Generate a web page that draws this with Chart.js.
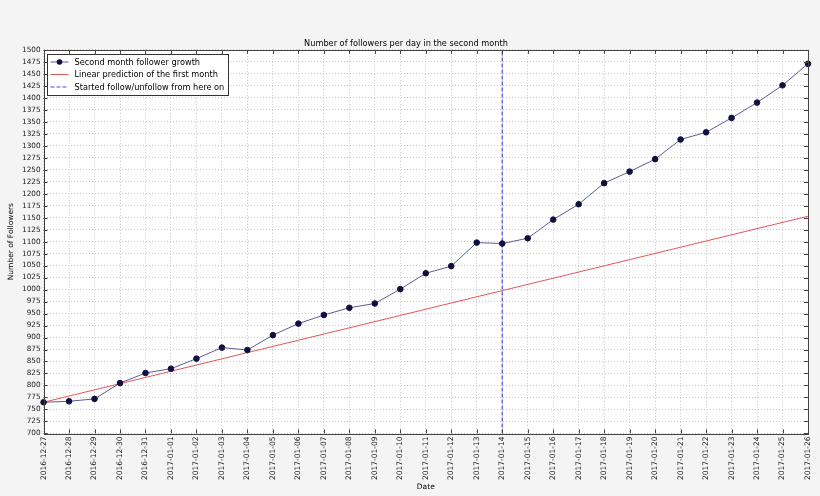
<!DOCTYPE html>
<html>
<head>
<meta charset="utf-8">
<script src="https://cdn.jsdelivr.net/npm/chart.js@4.4.1/dist/chart.umd.min.js"></script>
<style>
    html, body { margin: 0; padding: 0; background: #f4f4f4; }
</style>
</head>
<body>
<canvas id="followersChart" width="820" height="496"></canvas>
<script>
const dates = [
    '2016-12-27', '2016-12-28', '2016-12-29', '2016-12-30', '2016-12-31',
    '2017-01-01', '2017-01-02', '2017-01-03', '2017-01-04', '2017-01-05',
    '2017-01-06', '2017-01-07', '2017-01-08', '2017-01-09', '2017-01-10',
    '2017-01-11', '2017-01-12', '2017-01-13', '2017-01-14', '2017-01-15',
    '2017-01-16', '2017-01-17', '2017-01-18', '2017-01-19', '2017-01-20',
    '2017-01-21', '2017-01-22', '2017-01-23', '2017-01-24', '2017-01-25',
    '2017-01-26'
];
const followers = [
    765, 767, 772, 805, 826,
    835, 856, 879, 874, 905,
    929, 947, 962, 971, 1001,
    1034, 1049, 1098, 1096, 1107,
    1146, 1178, 1222, 1246, 1272,
    1313, 1328, 1358, 1390, 1426,
    1471
];
// linear prediction of the first month, only its two ends
const predictionStart = 765;
const predictionEnd = 1153;
const startedDate = '2017-01-14';
const yMin = 700;
const yMax = 1500;
const yStep = 25;

const seriesNames = [
    'Second month follower growth',
    'Linear prediction of the first month',
    'Started follow/unfollow from here on'
];

const FONT = 'DejaVu Sans';

// white plot area, frame, inside ticks, legend
const mplLook = {
    id: 'mplLook',
    beforeDraw(chart) {
        const { ctx, chartArea: a } = chart;
        ctx.save();
        ctx.fillStyle = '#ffffff';
        ctx.fillRect(a.left, a.top, a.right - a.left, a.bottom - a.top);
        ctx.restore();
    },
    afterDatasetsDraw(chart) {
        const { ctx, chartArea: a, scales } = chart;
        ctx.save();
        ctx.strokeStyle = '#444';
        ctx.lineWidth = 1;
        ctx.beginPath();
        scales.x.ticks.forEach((t, i) => {
            const px = Math.round(scales.x.getPixelForTick(i)) + 0.5;
            ctx.moveTo(px, a.bottom); ctx.lineTo(px, a.bottom - 4);
            ctx.moveTo(px, a.top); ctx.lineTo(px, a.top + 4);
        });
        scales.y.ticks.forEach((t, i) => {
            const py = Math.round(scales.y.getPixelForTick(i)) + 0.5;
            ctx.moveTo(a.left, py); ctx.lineTo(a.left + 4, py);
            ctx.moveTo(a.right, py); ctx.lineTo(a.right - 4, py);
        });
        ctx.stroke();
        ctx.strokeRect(Math.round(a.left) + 0.5, Math.round(a.top) + 0.5,
            Math.round(a.right - a.left), Math.round(a.bottom - a.top));

        // legend box
        const lx = Math.round(a.left) + 3.5, ly = Math.round(a.top) + 4.5;
        const lw = 181, lh = 41;
        ctx.fillStyle = '#ffffff';
        ctx.fillRect(lx, ly, lw, lh);
        ctx.strokeStyle = '#333';
        ctx.strokeRect(lx, ly, lw, lh);
        ctx.font = '8.2px "' + FONT + '"';
        ctx.fillStyle = '#000';
        ctx.textBaseline = 'middle';
        const rows = [ly + 7.5, ly + 20, ly + 32.5];
        chart.data.datasets.forEach((ds, i) => {
            const y = rows[i];
            ctx.strokeStyle = ds.borderColor;
            ctx.lineWidth = 1;
            ctx.setLineDash(ds.borderDash || []);
            ctx.beginPath();
            ctx.moveTo(lx + 3, y); ctx.lineTo(lx + 21, y);
            ctx.stroke();
            ctx.setLineDash([]);
            if (i === 0) {
                ctx.fillStyle = ds.pointBackgroundColor;
                ctx.beginPath();
                ctx.arc(lx + 12, y, 2.8, 0, Math.PI * 2);
                ctx.fill();
            }
            ctx.fillStyle = '#000';
            ctx.fillText(ds.label, lx + 27, y + 0.5);
        });
        ctx.restore();
    }
};

new Chart(document.getElementById('followersChart'), {
    type: 'line',
    data: {
        labels: dates,
        datasets: [{
            label: seriesNames[0],
            data: followers,
            borderColor: '#5c5c96',
            borderWidth: 1,
            pointBackgroundColor: '#101040',
            pointBorderColor: '#101040',
            pointRadius: 2.8,
            tension: 0
        }, {
            label: seriesNames[1],
            data: [
                { x: dates[0], y: predictionStart },
                { x: dates[dates.length - 1], y: predictionEnd }
            ],
            borderColor: '#e0585a',
            borderWidth: 1,
            pointRadius: 0,
            tension: 0
        }, {
            label: seriesNames[2],
            data: [
                { x: startedDate, y: yMin },
                { x: startedDate, y: yMax }
            ],
            borderColor: '#4a4ad0',
            borderWidth: 1.2,
            borderDash: [4, 2],
            pointRadius: 0
        }]
    },
    options: {
        responsive: false,
        animation: false,
        layout: { padding: { top: 0, right: 12, bottom: 4, left: 4 } },
        plugins: {
            legend: { display: false },
            tooltip: { enabled: false },
            title: {
                display: true,
                text: 'Number of followers per day in the second month',
                color: '#000',
                font: { family: FONT, size: 8.2, weight: 'normal' },
                padding: { top: 39, bottom: 1 }
            }
        },
        scales: {
            x: {
                type: 'category',
                offset: false,
                grid: { color: '#c8c8c8', drawTicks: false, lineWidth: 1 },
                border: { display: false, dash: [1, 2] },
                ticks: {
                    color: '#222',
                    font: { family: FONT, size: 7.5 },
                    minRotation: 90,
                    maxRotation: 90,
                    autoSkip: false,
                    padding: 3
                },
                title: {
                    display: true,
                    text: 'Date',
                    color: '#000',
                    font: { family: FONT, size: 7.5 },
                    padding: { top: 0, bottom: 0 }
                }
            },
            y: {
                min: yMin,
                max: yMax,
                grid: { color: '#c8c8c8', drawTicks: false, lineWidth: 1 },
                border: { display: false, dash: [1, 2] },
                ticks: {
                    stepSize: yStep,
                    autoSkip: false,
                    color: '#222',
                    font: { family: FONT, size: 7.3 },
                    padding: 3,
                    callback: v => String(v)
                },
                title: {
                    display: true,
                    text: 'Number of Followers',
                    color: '#000',
                    font: { family: FONT, size: 7.5 },
                    padding: { top: 3, bottom: 3 }
                }
            }
        }
    },
    plugins: [mplLook]
});
</script>
</body>
</html>
